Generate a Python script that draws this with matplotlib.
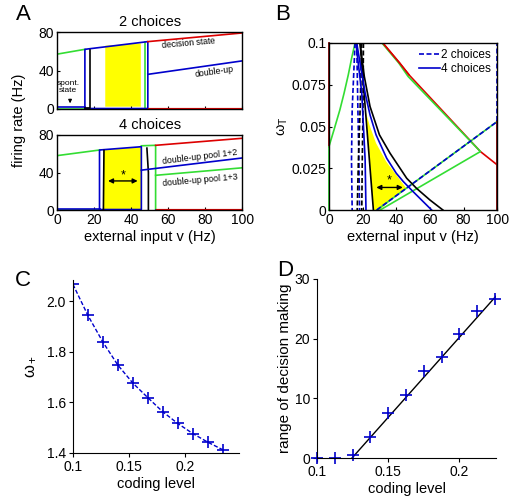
import matplotlib.pyplot as plt

plt.rcParams['font.family'] = ['Liberation Sans', 'DejaVu Sans']
plt.rcParams['mathtext.fontset'] = 'custom'
plt.rcParams['mathtext.rm'] = 'Liberation Sans'
plt.rcParams['mathtext.it'] = 'Liberation Sans'

BLUE = '#0000cc'
GREEN = '#33dd33'
RED = '#dd0000'
DRED = '#880000'
YELLOW = '#ffff00'

# ---- panel A, 2 choices (external input Hz, firing rate Hz) ----
a2_green_hi_x, a2_green_hi_y = [0, 15], [57, 62]
a2_spont_x, a2_spont_y = [0, 15], [2.5, 2.5]
a2_box_x = [15, 15, 49, 49, 15]
a2_box_y = [0.5, 62, 70, 0.5, 0.5]
a2_black_x, a2_black_y = [15, 18, 18], [1.5, 1.5, 61]
a2_green_v_x, a2_green_v_y = [47.6, 47.6], [0.5, 70]
a2_decision_x, a2_decision_y = [49, 100], [70, 79]
a2_double_x, a2_double_y = [49, 100], [36, 50]
a2_yellow_x = [26, 45.2, 45.2, 26]
a2_yellow_y = [2.4, 2.4, 68.2, 65.8]

# ---- panel A, 4 choices ----
a4_green_hi_x, a4_green_hi_y = [0, 23], [58, 64]
a4_box_x = [22.9, 22.9, 45.5, 45.5, 22.9]
a4_box_y = [0.5, 64, 67.5, 0.5, 0.5]
a4_black_l_x, a4_black_l_y = [25, 25.3], [0.5, 63.5]
a4_black_r_x, a4_black_r_y = [49.3, 49.3, 48.5], [0.5, 40, 66]
a4_green_box_x, a4_green_box_y = [45.5, 53.2, 53.2], [68.5, 69, 0.5]
a4_decision_x, a4_decision_y = [53.2, 100], [69, 76.5]
a4_pool12_x, a4_pool12_y = [45.5, 100], [42.5, 55.5]
a4_pool13_x, a4_pool13_y = [53.2, 100], [37, 45]
a4_yellow_x = [25.3, 45.5, 45.5, 25.3]
a4_yellow_y = [0.5, 0.5, 67, 64]

# ---- panel B (external input Hz, w_T) ----
b_green_left_x = [0, 3, 6.5, 9, 11.5, 13.5, 15.5]
b_green_left_y = [0.038, 0.048, 0.06, 0.07, 0.081, 0.091, 0.1]
b_dash2_blue1_x, b_dash2_blue1_y = [15.5, 13.8, 13.4, 13.8], [0.1, 0.06, 0.03, 0]
b_dash2_blue2_x, b_dash2_blue2_y = [16.5, 17.2, 17.8, 18.2], [0.1, 0.06, 0.03, 0]
b_dash2_black1_x, b_dash2_black1_y = [19.5, 18.5, 17.5, 16.8], [0.1, 0.06, 0.03, 0]
b_dash2_black2_x, b_dash2_black2_y = [20.5, 20.2, 19.8, 19.5], [0.1, 0.06, 0.03, 0]
b_blue_left_x, b_blue_left_y = [16, 19.5, 21.5, 22], [0.1, 0.07, 0.03, 0]
b_blue_right_x = [16.5, 19, 21.5, 24.4, 28, 34.3, 40, 44.2, 50, 55, 61]
b_blue_right_y = [0.1, 0.085, 0.07, 0.057, 0.045, 0.031, 0.022, 0.017, 0.011, 0.006, 0]
b_black_left_x, b_black_left_y = [18.5, 26.4], [0.1, 0]
b_black_right_x = [18.5, 21, 24.4, 30, 36.3, 46.2, 52, 60, 67.7]
b_black_right_y = [0.1, 0.08, 0.062, 0.045, 0.034, 0.019, 0.013, 0.006, 0]
b_cross_x, b_cross_y = [28.4, 100], [0, 0.053]
b_green_loop_x = [31.5, 36.5, 41.5, 47, 90, 30.4]
b_green_loop_y = [0.1, 0.094, 0.088, 0.08, 0.035, 0]
b_red_x = [32, 37, 42, 47.5, 90, 100]
b_red_y = [0.1, 0.094, 0.088, 0.081, 0.035, 0.027]
b_yellow_x = [21.8, 26.4, 30, 38, 46, 40, 34, 28, 24.4]
b_yellow_y = [0.059, 0, 0, 0.007, 0.013, 0.021, 0.029, 0.04, 0.05]

# ---- panel C ----
c_coding = [0.1, 0.1133, 0.1267, 0.14, 0.1533, 0.1667, 0.18, 0.1933, 0.2067, 0.22, 0.2333]
c_wplus = [2.068, 1.945, 1.839, 1.748, 1.677, 1.619, 1.563, 1.517, 1.477, 1.443, 1.413]

# ---- panel D ----
d_coding = [0.1, 0.1125, 0.125, 0.1375, 0.15, 0.1625, 0.175, 0.1875, 0.2, 0.2125, 0.225]
d_range = [0, 0, 0.45, 3.5, 7.5, 10.5, 14.6, 17.0, 20.7, 24.7, 26.6]
d_fit_x, d_fit_y = [0.1245, 0.2265], [0, 27.3]

fig = plt.figure(figsize=(5.1, 5.0), dpi=100)
LW = 1.2
TICK_FS = 10
LAB_FS = 10.5
NOTE_FS = 6.3


def frame(ax):
    for s in ax.spines.values():
        s.set_linewidth(1.0)
    ax.tick_params(direction='in', length=2, labelsize=TICK_FS, pad=2)


# --- A top ---
ax = fig.add_axes([0.112, 0.782, 0.363, 0.154])
ax.fill(a2_yellow_x, a2_yellow_y, color=YELLOW, lw=0)
ax.plot(a2_green_hi_x, a2_green_hi_y, color=GREEN, lw=LW)
ax.plot([0, 15], [0.5, 0.5], color=GREEN, lw=LW)
ax.plot(a2_spont_x, a2_spont_y, color=BLUE, lw=LW)
ax.plot(a2_green_v_x, a2_green_v_y, color=GREEN, lw=LW)
ax.plot(a2_box_x, a2_box_y, color=BLUE, lw=LW)
ax.plot(a2_black_x, a2_black_y, color='k', lw=LW)
ax.plot(a2_decision_x, a2_decision_y, color=RED, lw=LW)
ax.plot(a2_double_x, a2_double_y, color=BLUE, lw=LW)
ax.plot([49, 100], [0.3, 0.3], color=BLUE, lw=LW)
ax.plot([49, 100], [1.2, 1.2], color=RED, lw=LW * 0.7)
ax.text(71, 68, 'decision state', fontsize=NOTE_FS, rotation=5, ha='center', va='center')
ax.text(85, 39, 'double-up', fontsize=NOTE_FS, rotation=8, ha='center', va='center')
ax.text(6, 23, 'spont.\nstate', fontsize=6, ha='center', va='center', linespacing=1.1)
ax.annotate('', xy=(7, 3), xytext=(7, 13),
            arrowprops=dict(arrowstyle='-|>', color='k', lw=0.8, mutation_scale=5))
ax.set_xlim(0, 100)
ax.set_ylim(0, 80)
ax.set_yticks([0, 40, 80])
ax.set_xticks([0, 20, 40, 60, 80, 100])
ax.set_xticklabels([])
frame(ax)
ax.set_title('2 choices', fontsize=LAB_FS, pad=4)

# --- A bottom ---
ax = fig.add_axes([0.112, 0.58, 0.363, 0.15])
ax.fill(a4_yellow_x, a4_yellow_y, color=YELLOW, lw=0)
ax.plot(a4_green_hi_x, a4_green_hi_y, color=GREEN, lw=LW)
ax.plot([0, 23], [0.3, 0.3], color=GREEN, lw=LW)
ax.plot([0, 23], [1.5, 1.5], color=BLUE, lw=LW)
ax.plot(a4_green_box_x, a4_green_box_y, color=GREEN, lw=LW)
ax.plot(a4_box_x, a4_box_y, color=BLUE, lw=LW)
ax.plot(a4_black_l_x, a4_black_l_y, color='k', lw=LW)
ax.plot(a4_black_r_x, a4_black_r_y, color='k', lw=LW)
ax.plot(a4_decision_x, a4_decision_y, color=RED, lw=LW)
ax.plot(a4_pool12_x, a4_pool12_y, color=BLUE, lw=LW)
ax.plot(a4_pool13_x, a4_pool13_y, color=GREEN, lw=LW)
ax.plot([53.2, 100], [0.3, 0.3], color=BLUE, lw=LW)
ax.plot([53.2, 100], [1.2, 1.2], color=RED, lw=LW * 0.7)
ax.annotate('', xy=(45, 31), xytext=(26, 31),
            arrowprops=dict(arrowstyle='<|-|>', color='k', lw=1.0, mutation_scale=7))
ax.text(35.5, 37, '*', fontsize=9, ha='center', va='center')
ax.text(77, 57, 'double-up pool 1+2', fontsize=NOTE_FS, rotation=7, ha='center', va='center')
ax.text(77, 32, 'double-up pool 1+3', fontsize=NOTE_FS, rotation=5, ha='center', va='center')
ax.set_xlim(0, 100)
ax.set_ylim(0, 80)
ax.set_yticks([0, 40, 80])
ax.set_xticks([0, 20, 40, 60, 80, 100])
frame(ax)
ax.set_title('4 choices', fontsize=LAB_FS, pad=4)
ax.set_xlabel('external input v (Hz)', fontsize=LAB_FS, labelpad=2)
fig.text(0.037, 0.76, 'firing rate (Hz)', fontsize=LAB_FS, rotation=90,
         ha='center', va='center')

# --- B ---
ax = fig.add_axes([0.645, 0.58, 0.33, 0.334])
ax.fill(b_yellow_x, b_yellow_y, color=YELLOW, lw=0)
ax.plot(b_green_left_x, b_green_left_y, color=GREEN, lw=LW)
ax.plot(b_red_x, b_red_y, color=RED, lw=LW)
ax.plot(b_green_loop_x, b_green_loop_y, color=GREEN, lw=LW)
ax.plot(b_red_x[:4], b_red_y[:4], color=RED, lw=LW)
ax.plot(b_cross_x, b_cross_y, color=GREEN, lw=LW)
ax.plot(b_cross_x, b_cross_y, color=BLUE, lw=LW, ls='--', dashes=(3, 1.5))
ax.plot(b_dash2_blue1_x, b_dash2_blue1_y, color=BLUE, lw=LW, dashes=(3, 1.5))
ax.plot(b_dash2_blue2_x, b_dash2_blue2_y, color=BLUE, lw=LW, dashes=(3, 1.5))
ax.plot(b_dash2_black1_x, b_dash2_black1_y, color='k', lw=LW, dashes=(3, 1.5))
ax.plot(b_dash2_black2_x, b_dash2_black2_y, color='k', lw=LW, dashes=(3, 1.5))
ax.plot(b_blue_left_x, b_blue_left_y, color=BLUE, lw=LW)
ax.plot(b_black_left_x, b_black_left_y, color='k', lw=LW)
ax.plot(b_black_right_x, b_black_right_y, color='k', lw=LW)
ax.plot(b_blue_right_x, b_blue_right_y, color=BLUE, lw=LW)
ax.plot([0, 0], [0.038, 0.1], color=DRED, lw=1.3, clip_on=False)
ax.plot([0, 0], [0, 0.038], color=GREEN, lw=1.3, clip_on=False)
ax.plot([100, 100], [0, 0.053], color=DRED, lw=1.3, clip_on=False)
ax.plot([100, 100], [0.053, 0.1], color=BLUE, lw=1.2, dashes=(3, 1.5), clip_on=False)
ax.annotate('', xy=(45.5, 0.0135), xytext=(26.5, 0.0135),
            arrowprops=dict(arrowstyle='<|-|>', color='k', lw=1.0, mutation_scale=7))
ax.text(36, 0.0175, '*', fontsize=9, ha='center', va='center')
h1, = ax.plot([], [], color=BLUE, lw=LW, dashes=(3, 1.5), label='2 choices')
h2, = ax.plot([], [], color=BLUE, lw=LW, label='4 choices')
ax.legend(handles=[h1, h2], loc='upper right', frameon=False, fontsize=8.5,
          handlelength=1.8, handletextpad=0.1, borderaxespad=0.1, labelspacing=0.2)
ax.set_xlim(0, 100)
ax.set_ylim(0, 0.1)
ax.set_xticks([0, 20, 40, 60, 80, 100])
ax.set_yticks([0, 0.025, 0.05, 0.075, 0.1])
ax.set_yticklabels(['0', '0.025', '0.05', '0.075', '0.1'])
frame(ax)
ax.set_xlabel('external input v (Hz)', fontsize=LAB_FS, labelpad=2)
ax.set_ylabel(r'$\omega_{\rm T}$', fontsize=LAB_FS, labelpad=1)

# --- C ---
ax = fig.add_axes([0.143, 0.094, 0.326, 0.346])
ax.plot(c_coding, c_wplus, color=BLUE, lw=1.0, ls='--', dashes=(3, 1.5),
        marker='+', ms=9, mew=1.2)
ax.set_xlim(0.1, 0.248)
ax.set_ylim(1.4, 2.085)
ax.set_xticks([0.1, 0.15, 0.2])
ax.set_xticklabels(['0.1', '0.15', '0.2'])
ax.set_yticks([1.4, 1.6, 1.8, 2.0])
for s in ['top', 'right']:
    ax.spines[s].set_visible(False)
ax.tick_params(direction='out', length=3, labelsize=TICK_FS, pad=2)
ax.set_xlabel('coding level', fontsize=LAB_FS, labelpad=2)
ax.set_ylabel(r'$\omega_+$', fontsize=12, labelpad=6)
for s in ax.spines.values():
    s.set_clip_on(False)

# --- D ---
ax = fig.add_axes([0.622, 0.084, 0.351, 0.358])
ax.plot(d_fit_x, d_fit_y, color='k', lw=1.0)
ax.plot(d_coding, d_range, ls='none', color=BLUE, marker='+', ms=9, mew=1.2,
        clip_on=False)
ax.set_xlim(0.1, 0.226)
ax.set_ylim(0, 30)
ax.set_xticks([0.1, 0.15, 0.2])
ax.set_xticklabels(['0.1', '0.15', '0.2'])
ax.set_yticks([0, 10, 20, 30])
for s in ['top', 'right']:
    ax.spines[s].set_visible(False)
ax.tick_params(direction='out', length=3, labelsize=TICK_FS, pad=2)
ax.set_xlabel('coding level', fontsize=LAB_FS, labelpad=2)
ax.set_ylabel('range of decision making', fontsize=11, labelpad=2)

# panel letters
for lab, x, y in [('A', 0.045, 0.97), ('B', 0.555, 0.97), ('C', 0.045, 0.44), ('D', 0.56, 0.458)]:
    fig.text(x, y, lab, fontsize=16, ha='center', va='center')

fig.savefig('out.png', dpi=100)
